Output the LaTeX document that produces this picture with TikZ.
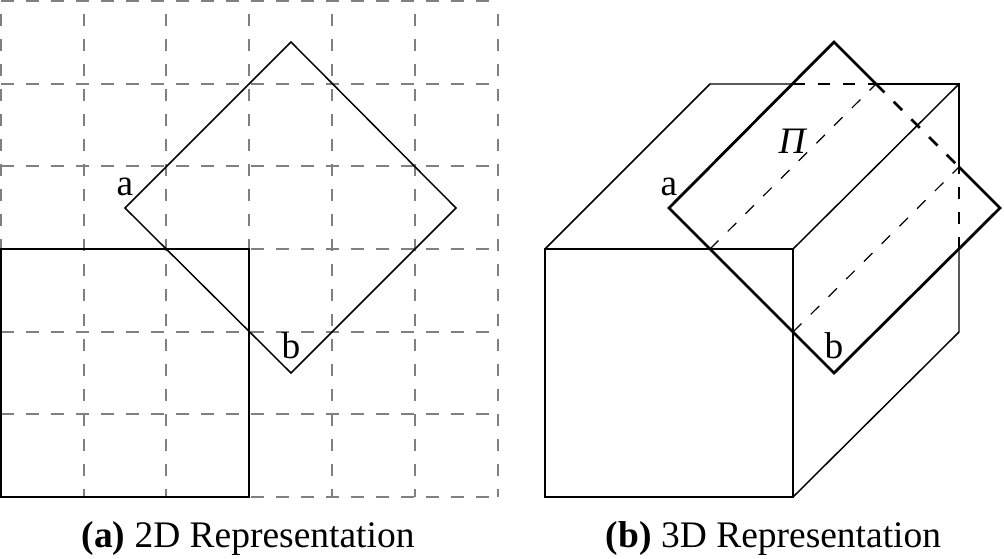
\documentclass[tikz,border=0pt]{standalone}
\usepackage{fontspec}
\setmainfont{Liberation Serif}
\tikzset{
  gridh/.style={draw=black!50,line width=1pt,dash pattern=on 9.4pt off 9.35pt},
  gridv/.style={draw=black!50,line width=1pt,dash pattern=on 9pt off 9.75pt,dash phase=9pt},
  outline/.style={draw=black,line width=1.1pt,line cap=butt,line join=miter},
  thickline/.style={draw=black,line width=2.1pt,line join=miter},
  hidden/.style={draw=black,line width=0.9pt,dash pattern=on 9pt off 9.75pt},
  thickdash/.style={draw=black,line width=2.1pt,dash pattern=on 9pt off 9.75pt},
  lab/.style={font=\fontsize{28}{32}\selectfont,inner sep=0pt,anchor=base},
  captext/.style={font=\fontsize{28.1}{32}\selectfont,inner sep=0pt,anchor=base}
}
\begin{document}
\begin{tikzpicture}[x=0.75pt,y=-0.75pt]
\useasboundingbox (0,0) rectangle (1004,558);
% left grid
\foreach \x in {1,84,166,249,332,415,498} \draw[gridv] (\x,1) -- (\x,497);
\foreach \y in {1,84,166,249,332,414,497} \draw[gridh] (1,\y) -- (498,\y);
\draw[outline] (1,249) rectangle (249,497);
\coordinate (lt) at (291,42); \coordinate (lr) at (456,208);
\coordinate (lb) at (291,373); \coordinate (ll) at (125,208);
\draw[outline] (lt) -- (lr) -- (lb) -- (ll) -- cycle;
\node[lab] (la) at (125,195) {a};
\node[lab] (lbl) at (291,358) {b};
% right cube
\coordinate (fa) at (545,249); \coordinate (fb) at (793,249);
\coordinate (fc) at (793,497); \coordinate (fd) at (545,497);
\coordinate (ba) at (710,84); \coordinate (bb) at (959,84); \coordinate (bc) at (959,332);
\coordinate (p1) at (793,84); \coordinate (p2) at (876,84);
\coordinate (p3) at (959,167); \coordinate (p4) at (959,249);
\coordinate (q1) at (710,249); \coordinate (q2) at (793,332);
\coordinate (rt) at (834,42); \coordinate (rr) at (1000,208);
\coordinate (rb) at (834,373); \coordinate (rl) at (669,208);
\draw[outline] (fa) rectangle (fc);
\draw[outline] (fa) -- (ba) -- (p1);
\draw[outline] (p2) -- (bb) -- (p3);
\draw[outline] (p4) -- (bc) -- (fc);
\draw[outline] (fb) -- (bb);
\draw[hidden] (p1) -- (p2);
\draw[hidden] (p4) -- (p3);
\draw[hidden] (q1) -- (p2);
\draw[hidden] (q2) -- (p3);
\draw[thickline] (p2) -- (rt) -- (rl) -- (rb) -- (rr) -- (p3);
\draw[thickdash] (p2) -- (p3);
\node[lab] (ra) at (669,195) {a};
\node[lab] (rbl) at (834,358) {b};
\node[lab] (pi) at (793,153) {\textit{Π}};
\node[captext] (c1) at (248,547) {\textbf{(a)} 2D Representation};
\node[captext] (c2) at (773.5,547) {\textbf{(b)} 3D Representation};
\end{tikzpicture}
\end{document}
